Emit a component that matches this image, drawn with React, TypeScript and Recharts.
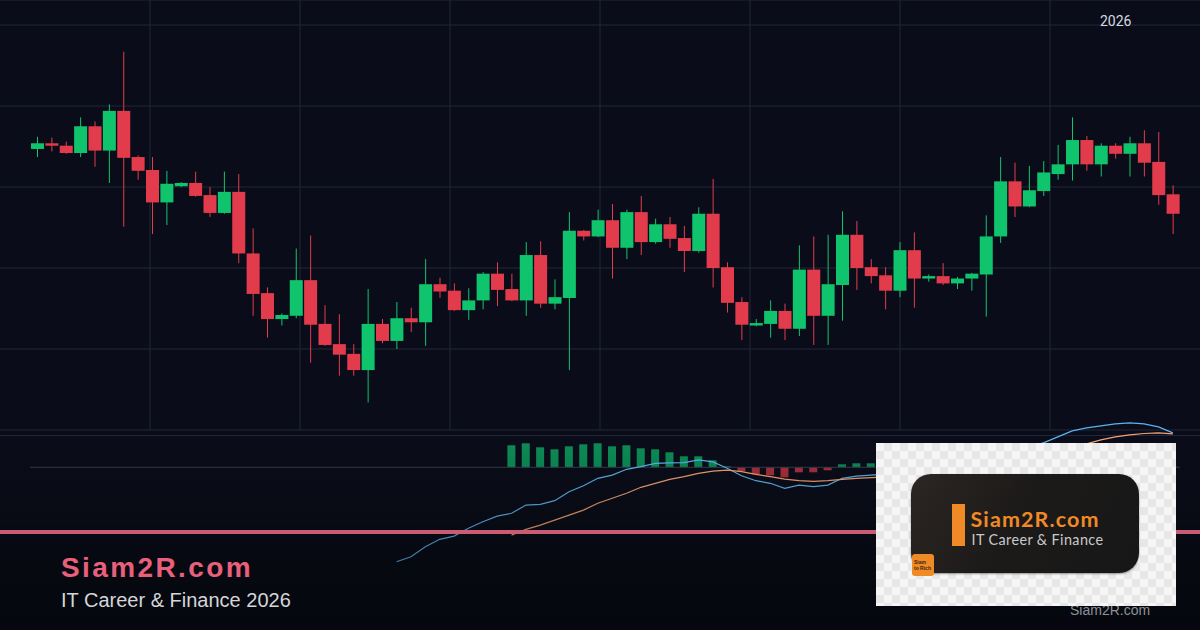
import { Bar, Cell, ComposedChart, CartesianGrid, Line, ReferenceLine, XAxis, YAxis } from 'recharts';

// daily candles, oldest first
const open = [
  134.7, 135.4, 135.1, 134.2, 137.5, 134.5, 139.4, 133.7, 132.1, 128.1,
  130.1, 130.5, 129.0, 126.8, 129.4, 121.8, 116.9, 113.7, 114.1, 118.5,
  113.1, 110.6, 109.4, 107.4, 113.1, 111.0, 113.8, 113.3, 118.0, 117.2,
  114.8, 116.0, 119.3, 117.4, 116.0, 121.6, 115.6, 116.3, 124.6, 123.9,
  125.9, 122.5, 126.9, 123.2, 125.4, 123.7, 122.1, 126.7, 120.1, 115.8,
  112.9, 113.1, 114.7, 112.5, 119.8, 114.1, 117.9, 124.1, 120.1, 119.1,
  117.2, 122.2, 118.7, 119.0, 118.1, 118.7, 119.2, 123.9, 130.7, 127.6,
  129.5, 131.6, 132.8, 135.8, 132.8, 135.1, 134.1, 135.4, 133.1, 129.1,
];
const high = [
  136.2, 136.1, 135.6, 138.6, 138.1, 140.2, 146.7, 133.9, 133.7, 132.0,
  130.6, 131.9, 130.0, 131.9, 131.6, 124.9, 117.6, 114.4, 122.4, 124.0,
  115.4, 114.3, 110.6, 117.4, 113.7, 115.8, 115.1, 121.1, 118.8, 118.1,
  117.5, 119.5, 120.7, 119.3, 123.2, 123.3, 118.6, 126.9, 124.7, 127.2,
  127.9, 127.2, 128.9, 126.1, 126.3, 125.2, 127.5, 131.0, 120.7, 116.4,
  113.7, 116.0, 115.6, 122.8, 123.9, 124.1, 127.0, 125.8, 121.1, 120.1,
  123.2, 124.4, 119.2, 120.6, 118.9, 119.4, 126.5, 133.7, 133.0, 132.6,
  133.2, 135.2, 138.6, 136.3, 135.4, 135.4, 136.2, 137.0, 136.8, 130.2,
];
const low = [
  133.7, 134.4, 134.1, 133.7, 132.5, 130.5, 125.1, 130.9, 124.2, 125.3,
  130.0, 128.8, 126.3, 126.7, 120.6, 114.1, 111.4, 112.9, 113.8, 108.3,
  110.4, 106.7, 106.7, 103.4, 110.7, 110.0, 112.1, 110.4, 116.3, 114.7,
  113.6, 114.9, 115.3, 115.9, 114.1, 115.1, 114.9, 107.4, 123.4, 123.8,
  118.7, 121.1, 121.6, 123.0, 122.5, 119.5, 121.9, 117.6, 114.5, 111.1,
  112.8, 111.4, 111.1, 111.6, 110.5, 110.5, 113.5, 117.3, 118.1, 114.9,
  116.4, 115.1, 118.3, 117.9, 117.4, 117.2, 114.0, 123.1, 126.3, 127.5,
  128.9, 130.9, 130.8, 132.0, 131.3, 133.5, 131.3, 131.3, 127.8, 124.2,
];
const close = [
  135.4, 135.1, 134.2, 137.5, 134.5, 139.4, 133.6, 132.0, 128.1, 130.4,
  130.5, 128.9, 126.8, 129.4, 121.8, 116.8, 113.7, 114.2, 118.5, 113.0,
  110.5, 109.3, 107.4, 113.1, 111.0, 113.8, 113.3, 118.0, 117.1, 114.8,
  116.0, 119.3, 117.3, 116.0, 121.6, 115.6, 116.4, 124.6, 123.9, 125.9,
  122.5, 126.9, 123.2, 125.4, 123.6, 122.1, 126.7, 120.0, 115.7, 113.0,
  113.2, 114.7, 112.5, 119.8, 114.1, 118.0, 124.1, 120.0, 119.0, 117.2,
  122.2, 118.7, 119.0, 118.1, 118.7, 119.3, 123.9, 130.7, 127.6, 129.6,
  131.8, 132.8, 135.8, 132.8, 135.1, 134.1, 135.4, 133.0, 129.0, 126.7,
];

// MACD panel (no value before the indicator warms up)
const macdLine = [
  ...Array(25).fill(null),
  -4.72, -4.47, -3.97, -3.6, -3.44, -3.05, -2.72, -2.44, -2.3, -1.89,
  -1.85, -1.67, -1.22, -0.92, -0.55, -0.39, -0.1, 0.03, 0.2, 0.22,
  0.23, 0.37, 0.27, -0.05, -0.42, -0.67, -0.8, -1.05, -0.89, -0.97,
  -0.89, -0.55, -0.44, -0.39, -0.34, -0.24, -0.19, -0.19, -0.19, -0.19,
  -0.19, 0.02, 0.47, 0.77, 1.02, 1.22, 1.52, 1.82, 1.97, 2.07,
  2.17, 2.22, 2.17, 2.02, 1.72,
];
const signalLine = [
  ...Array(33).fill(null),
  -3.39, -3.1, -2.89, -2.64, -2.39, -2.14, -1.8, -1.55, -1.3, -1.0,
  -0.8, -0.6, -0.47, -0.3, -0.19, -0.14, -0.22, -0.35, -0.47, -0.59,
  -0.67, -0.7, -0.67, -0.6, -0.55, -0.52, -0.49, -0.46, -0.44, -0.41,
  -0.39, -0.36, -0.34, -0.29, -0.14, 0.02, 0.17, 0.37, 0.62, 0.92,
  1.17, 1.37, 1.52, 1.62, 1.69, 1.72, 1.67,
];
const histogram = [
  ...Array(33).fill(null),
  1.1, 1.2, 1.0, 0.9, 1.05, 1.15, 1.2, 1.05, 1.1, 0.95,
  0.9, 0.75, 0.55, 0.55, 0.35, 0.05, -0.2, -0.35, -0.4, -0.5,
  -0.25, -0.25, -0.15, 0.15, 0.2, 0.2, 0.15, 0.22, 0.25, 0.22,
  0.2, 0.17, 0.15, 0.31, 0.61, 0.75, 0.85, 0.85, 0.9, 0.9,
  0.8, 0.7, 0.65, 0.6, 0.48, 0.3, 0.05,
];

const priceTicks = [100, 110, 120, 130, 140, 150];

const UP = '#10c46d';
const DOWN = '#e23c4c';
const GRID = '#222737';
const BG = '#0a0d19';

const rows = open.map((o, i) => ({
  i,
  open: o,
  high: high[i],
  low: low[i],
  close: close[i],
  range: [low[i], high[i]],
  macd: macdLine[i],
  signal: signalLine[i],
  hist: histogram[i],
}));

function Candle(props: any) {
  const { x, y, width, height, payload } = props;
  const { open: o, close: c, high: h, low: l } = payload;
  const k = height / (h - l);
  const color = c >= o ? UP : DOWN;
  const top = y + (h - Math.max(o, c)) * k;
  const bh = Math.max(Math.abs(o - c) * k, 1.5);
  const cx = x + width / 2;
  return (
    <g>
      <line x1={cx} x2={cx} y1={y} y2={y + height} stroke={color} strokeWidth={1} />
      <rect x={x} y={top} width={width} height={bh} fill={color} />
    </g>
  );
}

const abs = (l: number, t: number, extra: React.CSSProperties = {}): React.CSSProperties => ({
  position: 'absolute',
  left: l,
  top: t,
  ...extra,
});

export default function App() {
  return (
    <div style={{ position: 'absolute', left: 0, top: 0, width: 1200, height: 630, background: BG, overflow: 'hidden' }}>
      <div style={abs(0, 0)}>
        <ComposedChart width={1200} height={440} data={rows} margin={{ top: 0, right: 0, bottom: 10, left: 0 }}>
          <CartesianGrid stroke={GRID} verticalPoints={[150, 300, 450, 600, 750, 900, 1050]} />
          <XAxis dataKey="i" hide padding={{ left: 30, right: 20 }} />
          <YAxis hide domain={[100, 153.09]} ticks={priceTicks} allowDataOverflow />
          <Bar dataKey="range" barSize={13} shape={<Candle />} isAnimationActive={false} />
        </ComposedChart>
      </div>

      <div style={abs(0, 435, { width: 1200, height: 1, background: GRID })} />

      <div style={abs(0, 415)}>
        <ComposedChart width={1200} height={215} data={rows} margin={{ top: 0, right: 20, bottom: 0, left: 30 }}>
          <XAxis dataKey="i" hide />
          <YAxis hide domain={[-8.135, 2.615]} allowDataOverflow />
          <ReferenceLine y={0} stroke="#353a4a" strokeWidth={1} />
          <Bar dataKey="hist" barSize={8} isAnimationActive={false}>
            {rows.map((r) => (
              <Cell key={r.i} fill={(r.hist ?? 0) >= 0 ? '#0c8b56' : '#a5303d'} />
            ))}
          </Bar>
          <Line dataKey="macd" stroke="#5cb2ee" strokeWidth={1.2} dot={false} isAnimationActive={false} />
          <Line dataKey="signal" stroke="#f2a075" strokeWidth={1.2} dot={false} isAnimationActive={false} />
        </ComposedChart>
      </div>

      <div style={abs(0, 440, { width: 1200, height: 190, background: 'linear-gradient(to bottom, rgba(0,0,0,0) 0%, rgba(0,0,0,0.25) 50%, rgba(0,0,0,0.45) 100%)' })} />

      <div style={abs(0, 530, { width: 1200, height: 4, background: '#c95b74' })} />

      <div style={abs(1100, 13.9, { fontFamily: 'Roboto, sans-serif', fontSize: 14, lineHeight: '14px', color: '#d6d9e0' })}>2026</div>

      <div style={abs(61, 553.6, { fontFamily: '"Liberation Sans", Arial, sans-serif', fontWeight: 700, fontSize: 28, lineHeight: '28px', letterSpacing: 2.4, color: '#e8607c' })}>
        Siam2R.com
      </div>
      <div style={abs(61, 589.8, { fontFamily: '"Liberation Sans", Arial, sans-serif', fontSize: 20, lineHeight: '20px', color: '#d4d6da' })}>
        IT Career &amp; Finance 2026
      </div>

      <div style={abs(1070, 603.2, { fontFamily: '"Liberation Sans", Arial, sans-serif', fontSize: 14, lineHeight: '14px', color: '#8c9099' })}>
        Siam2R.com
      </div>

      <div
        style={abs(876, 443, {
          width: 300,
          height: 163,
          background: 'repeating-conic-gradient(#e7e7e7 0% 25%, #f5f5f5 0% 50%) 0 0 / 16px 16px',
        })}
      >
        <div
          style={abs(35, 31, {
            width: 228,
            height: 99,
            borderRadius: 20,
            background: 'linear-gradient(120deg, #2c2623 0%, #1c1a19 45%, #171717 100%)',
            boxShadow: '0 1px 2px rgba(0,0,0,0.4)',
          })}
        >
          <div style={abs(41, 30, { width: 13, height: 42, background: '#ef8a27' })} />
          <div style={abs(59.5, 34.5, { fontFamily: 'Lato, sans-serif', fontWeight: 700, fontSize: 21.5, lineHeight: '21.5px', letterSpacing: 1.1, color: '#ef8a27' })}>
            Siam2R.com
          </div>
          <div style={abs(60.5, 58.7, { fontFamily: 'Lato, sans-serif', fontSize: 14.4, lineHeight: '14.4px', letterSpacing: 0.4, color: '#c9c9c9' })}>
            IT Career &amp; Finance
          </div>
        </div>
        <div
          style={abs(36, 111, {
            width: 22,
            height: 22,
            borderRadius: 3,
            background: '#ef8a27',
            fontFamily: '"Liberation Sans", Arial, sans-serif',
            fontSize: 5,
            lineHeight: '6px',
            fontWeight: 700,
            color: '#3a2410',
            padding: '5px 0 0 2px',
            boxSizing: 'border-box',
          })}
        >
          Siam
          <br />
          to Rich
        </div>
      </div>
    </div>
  );
}
